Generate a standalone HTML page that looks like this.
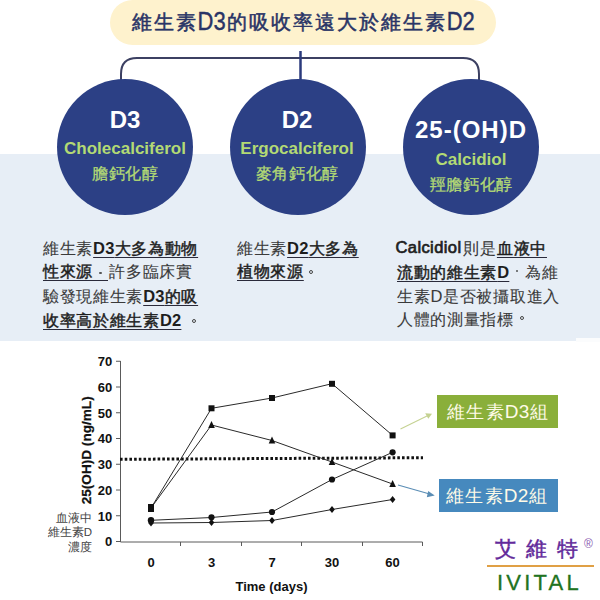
<!DOCTYPE html>
<html><head><meta charset="utf-8">
<style>
*{margin:0;padding:0;box-sizing:border-box}
html,body{width:600px;height:600px;overflow:hidden;background:#fff}
body{position:relative;font-family:"Liberation Sans",sans-serif}
.a{position:absolute;white-space:nowrap}
#band{left:0;top:154px;width:600px;height:187px;background:#e7eef6}
#pill{left:110px;top:0;width:386px;height:45px;border-radius:22.5px;background:#fef2cd}
#title{left:132px;top:7.5px;font-size:19.5px;line-height:28px;color:#293466;letter-spacing:2px;-webkit-text-stroke:0.5px #293466}
#title .L{display:inline-block;position:relative;top:1px;transform:scaleY(1.13);transform-origin:50% 62%;font-size:22px;font-weight:400;letter-spacing:0;-webkit-text-stroke:0.35px #293466;margin-right:1.5px;margin-left:-0.5px}
.circ{width:136px;height:136px;border-radius:50%;background:#2c4085;top:79px}
.ct{text-align:center;width:200px}
.h{color:#fff;font-weight:bold;font-size:24px;line-height:24px}
.g{color:#b3da74;font-weight:bold;font-size:17px;line-height:17px}
.gc{color:#b3da74;font-size:16px;line-height:18px;margin-top:1px;letter-spacing:0.6px;text-indent:0.6px;-webkit-text-stroke:0.3px #b3da74}
.p{font-size:15.5px;line-height:24px;color:#3a3a3a;letter-spacing:0.7px;-webkit-text-stroke:0.1px #3a3a3a}
.p b{color:#1e1e1e;font-weight:400;-webkit-text-stroke:0.45px #1e1e1e;text-decoration:underline;text-decoration-thickness:1px;text-underline-offset:3px;text-decoration-color:#2a2a3a}
.p .L{font-weight:700;font-size:16.5px;letter-spacing:0.2px;-webkit-text-stroke:0}
.p .R{font-size:16.5px;letter-spacing:0.7px}
.pc{display:inline-block;position:relative;width:16px;height:10px}
.pc::after{content:"";position:absolute;box-sizing:border-box;left:6.3px;top:3.3px;width:2.4px;height:2.4px;border-radius:50%;background:#555}
.p1::after,.p2::after,.p3::after{width:4px;height:4px;border:1px solid #444;background:none}
.c1::after{top:5px}.c1::before{content:"";position:absolute;left:0;top:13px;width:15px;height:1px;background:#2a2a3a}.c2::after{top:2px}.p2::after{left:5px}.p1::after{left:10.5px}.p3::after{top:1px}
.lat{color:#1e1e1e;font-weight:400;letter-spacing:0.4px;font-size:16.5px;-webkit-text-stroke:0.7px #1e1e1e;margin-left:-1.5px;margin-right:2px;position:relative;top:-1px}
.ann{width:92px;text-align:right;font-size:11.5px;line-height:14.5px;color:#444}
.box{color:#fffbe8;font-size:17.5px;line-height:34.5px;text-align:center;letter-spacing:1.2px;text-indent:1.2px}
.box i{font-style:normal;font-size:19px;letter-spacing:0.3px}
</style></head><body>
<div class="a" id="band"></div>
<div class="a" style="left:576px;top:337.5px;width:24px;height:4px;background:#fbfcfd"></div>
<div class="a" id="pill"></div>
<div class="a" id="title">維生素<span class="L">D3</span>的吸收率遠大於維生素<span class="L">D2</span></div>
<svg class="a" style="left:0;top:0" width="600" height="100">
<path d="M121,80 V74 Q121,58 137,58 H463 Q479,58 479,74 V80" fill="none" stroke="#3c4062" stroke-width="2"/>
<line x1="300.5" y1="51" x2="300.5" y2="80" stroke="#2b3a7c" stroke-width="2.5"/>
</svg>
<div class="a circ" style="left:57px"></div>
<div class="a circ" style="left:229.5px"></div>
<div class="a circ" style="left:403px"></div>

<div class="a ct h" style="left:25px;top:108px">D3</div>
<div class="a ct g" style="left:25px;top:140px">Cholecalciferol</div>
<div class="a ct gc" style="left:25px;top:164px">膽鈣化醇</div>

<div class="a ct h" style="left:197px;top:108px">D2</div>
<div class="a ct g" style="left:197px;top:140px">Ergocalciferol</div>
<div class="a ct gc" style="left:197px;top:164px">麥角鈣化醇</div>

<div class="a ct h" style="left:371px;top:118px;letter-spacing:1px">25-(OH)D</div>
<div class="a ct g" style="left:371px;top:151px">Calcidiol</div>
<div class="a ct gc" style="left:371px;top:175px">羥膽鈣化醇</div>

<div class="a p" style="left:43px;top:236px">維生素<b><span class="L">D3</span>大多為動物</b></div>
<div class="a p" style="left:43px;top:260px"><b>性來源<span class="pc c1"></span></b>許多臨床實</div>
<div class="a p" style="left:43px;top:284px">驗發現維生素<b><span class="L">D3</span>的吸</b></div>
<div class="a p" style="left:43px;top:308px"><b>收率高於維生素<span class="L">D2</span></b><span class="pc p1"></span></div>
<div class="a p" style="left:237px;top:236px">維生素<b><span class="L">D2</span>大多為</b></div>
<div class="a p" style="left:237px;top:260px"><b>植物來源</b><span class="pc p2"></span></div>
<div class="a p" style="left:397px;top:236px"><span class="lat">Calcidiol</span><span style="color:#333">則是</span><b>血液中</b></div>
<div class="a p" style="left:397px;top:260px"><b>流動的維生素<span class="L">D</span></b><span class="pc c2"></span>為維</div>
<div class="a p" style="left:397px;top:284px">生素<span class="R">D</span>是否被攝取進入</div>
<div class="a p" style="left:397px;top:308px">人體的測量指標<span class="pc p3"></span></div>

<div class="a ann" style="left:0;top:511.3px">血液中</div>
<div class="a ann" style="left:0;top:524.5px">維生素D</div>
<div class="a ann" style="left:0;top:540.3px">濃度</div>

<svg class="a" style="left:0;top:340px" width="600" height="260" font-family="Liberation Sans" font-weight="bold">
<g transform="translate(0,-340)">
<path d="M120.5,361 V542 H422.5" fill="none" stroke="#5a5a5a" stroke-width="1"/>
<g stroke="#5a5a5a" stroke-width="1">
<line x1="116" y1="361.25" x2="120.5" y2="361.25"/>
<line x1="116" y1="387" x2="120.5" y2="387"/>
<line x1="116" y1="412.75" x2="120.5" y2="412.75"/>
<line x1="116" y1="438.5" x2="120.5" y2="438.5"/>
<line x1="116" y1="464.25" x2="120.5" y2="464.25"/>
<line x1="116" y1="490" x2="120.5" y2="490"/>
<line x1="116" y1="515.75" x2="120.5" y2="515.75"/>
<line x1="116" y1="541.5" x2="120.5" y2="541.5"/>
<line x1="180.5" y1="542" x2="180.5" y2="546"/>
<line x1="241.5" y1="542" x2="241.5" y2="546"/>
<line x1="301.5" y1="542" x2="301.5" y2="546"/>
<line x1="362.5" y1="542" x2="362.5" y2="546"/>
<line x1="422.5" y1="542" x2="422.5" y2="546"/>
</g>
<g font-size="13" text-anchor="end" fill="#111">
<text x="112.2" y="366">70</text>
<text x="112.2" y="391.75">60</text>
<text x="112.2" y="417.5">50</text>
<text x="112.2" y="443.25">40</text>
<text x="112.2" y="469">30</text>
<text x="112.2" y="494.75">20</text>
<text x="112.2" y="520.5">10</text>
<text x="112.2" y="546.25">0</text>
</g>
<g font-size="13" text-anchor="middle" fill="#111">
<text x="151" y="567">0</text>
<text x="211.5" y="567">3</text>
<text x="272" y="567">7</text>
<text x="332" y="567">30</text>
<text x="392.5" y="567">60</text>
<text x="271.5" y="591">Time (days)</text>
</g>
<text transform="translate(90.8,504.3) rotate(-90)" font-size="13.6" fill="#111" stroke="#111" stroke-width="0.25">25(OH)D (ng/mL)</text>
<line x1="120" y1="459.3" x2="423" y2="457.7" stroke="#111" stroke-width="3" stroke-dasharray="2.6,2.1"/>
<g fill="none" stroke="#2a2a2a" stroke-width="1">
<polyline points="151,508 211.5,408.3 272,398 332,383.7 392.6,435.4"/>
<polyline points="151,508 211.5,425 272,440.5 332,462 392.6,484"/>
<polyline points="151,520.3 211.5,517.5 272,512 332,479.5 392.6,452.3"/>
<polyline points="151,523 211.5,522.5 272,520.5 332,509.5 392.6,499.5"/>
</g>
<g fill="#111">
<rect x="148" y="504" width="6" height="8"/>
<rect x="208.5" y="405.3" width="6" height="6"/>
<rect x="269" y="395" width="6" height="6"/>
<rect x="329" y="380.8" width="6" height="6"/>
<rect x="389.6" y="432.4" width="6" height="6"/>
<path d="M211.5,421 L214.8,428 L208.2,428Z"/>
<path d="M272,436.5 L275.3,443.5 L268.7,443.5Z"/>
<path d="M332,458 L335.3,465 L328.7,465Z"/>
<path d="M392.6,480 L395.9,487 L389.3,487Z"/>
<circle cx="151" cy="520.3" r="3.2"/>
<circle cx="211.5" cy="517.3" r="3.1"/>
<circle cx="272" cy="512" r="3.1"/>
<circle cx="332" cy="479.5" r="3.1"/>
<circle cx="392.6" cy="452.3" r="3.1"/>
<path d="M151,519.5 L153.8,523 L151,526.5 L148.2,523Z"/>
<path d="M211.5,519 L214.3,522.5 L211.5,526 L208.7,522.5Z"/>
<path d="M272,517 L274.8,520.5 L272,524 L269.2,520.5Z"/>
<path d="M332,506 L334.8,509.5 L332,513 L329.2,509.5Z"/>
<path d="M392.6,496 L395.4,499.5 L392.6,503 L389.8,499.5Z"/>
</g>
<line x1="400.5" y1="428.9" x2="428" y2="415.6" stroke="#c5d292" stroke-width="1.1"/>
<path d="M432,413.7 L425.2,413.2 L428.3,418.8Z" fill="#c5d292"/>
<line x1="398" y1="485" x2="430.5" y2="494.2" stroke="#5a8db5" stroke-width="1.1"/>
<path d="M434.7,495.4 L428.2,491 L426.8,497.2Z" fill="#5a8db5"/>
</g>
</svg>

<div class="a" style="left:437px;top:395px;width:121px;height:32.5px;background:#8aaf3a"></div>
<div class="a box" style="left:437px;top:395px;width:121px;height:33.5px">維生素<i>D3</i>組</div>
<div class="a" style="left:439px;top:479.3px;width:119px;height:32.5px;background:#4689be"></div>
<div class="a box" style="left:437px;top:479.3px;width:119px;height:33.5px">維生素<i>D2</i>組</div>

<div class="a" style="left:495px;top:534px;font-size:21px;line-height:30px;color:#62299a;letter-spacing:10px;-webkit-text-stroke:0.45px #62299a">艾維特</div>
<div class="a" style="left:584px;top:538px;font-size:12px;line-height:13px;color:#8a5ab0">®</div>
<div class="a" style="left:487px;top:565px;width:107px;height:2px;background:#e0a045"></div>
<div class="a" style="left:497px;top:570.5px;font-size:22px;line-height:24px;color:#217321;letter-spacing:3.2px;-webkit-text-stroke:0.3px #217321">IVITAL</div>
</body></html>
